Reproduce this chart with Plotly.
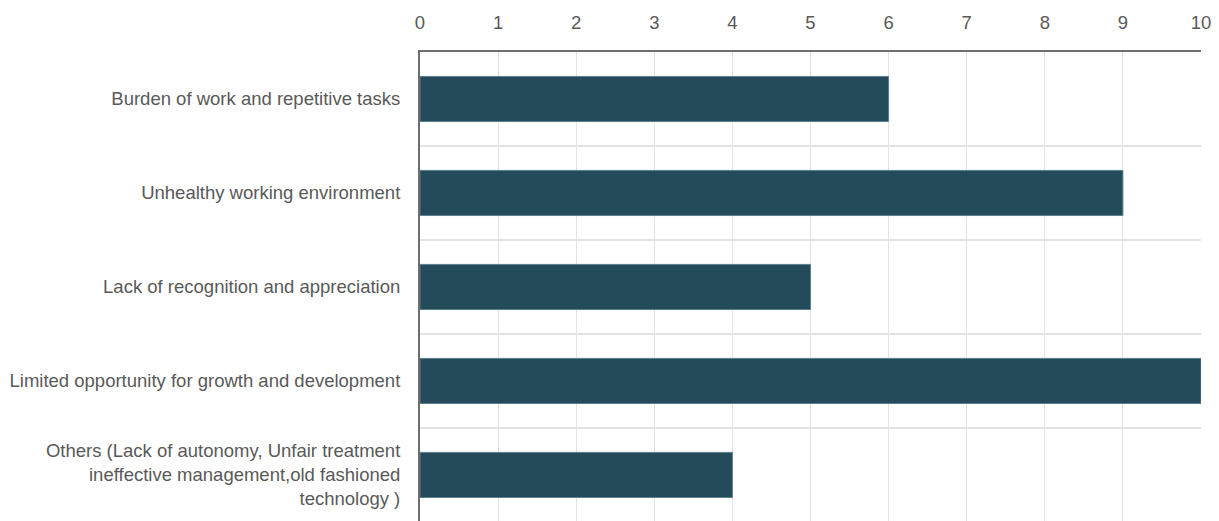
import plotly.graph_objects as go

categories = [
    "Burden of work and repetitive tasks",
    "Unhealthy working environment",
    "Lack of recognition and appreciation",
    "Limited opportunity for growth and development",
    "Others (Lack of autonomy, Unfair treatment<br>ineffective management,old fashioned<br>technology )",
]
counts = [6, 9, 5, 10, 4]
x_ticks = list(range(0, 11))

positions = list(range(len(categories)))
boundaries = [p - 0.5 for p in positions] + [positions[-1] + 0.5]

label_font = dict(family="Liberation Sans, Arial", size=18.5, color="#595959")

fig = go.Figure(
    go.Bar(
        x=counts,
        y=positions,
        orientation="h",
        width=0.48,
        marker=dict(color="#234B59", line=dict(color="#5d7f8b", width=1)),
    )
)

fig.update_layout(
    width=1219,
    height=521,
    margin=dict(l=420, r=18, t=52, b=0),
    paper_bgcolor="white",
    plot_bgcolor="white",
    showlegend=False,
    bargap=0.5,
)

fig.update_xaxes(
    side="top",
    range=[0, 10],
    tickvals=x_ticks,
    ticktext=[str(t) for t in x_ticks],
    tickfont=label_font,
    showgrid=True,
    gridcolor="#e3e3e3",
    gridwidth=1,
    zeroline=False,
    showline=True,
    linecolor="#6e6e6e",
    linewidth=2,
    ticks="",
    ticklabelstandoff=14,
    automargin=False,
)

fig.update_yaxes(
    range=[4.49, -0.5],
    tickvals=positions,
    ticktext=categories,
    tickfont=label_font,
    showgrid=False,
    zeroline=False,
    showline=True,
    linecolor="#6e6e6e",
    linewidth=2,
    ticks="",
    ticklabelstandoff=14,
    automargin=False,
    minor=dict(tickvals=boundaries, showgrid=True, gridcolor="#e3e3e3", gridwidth=2, ticks=""),
)

fig.write_html("out.html")
